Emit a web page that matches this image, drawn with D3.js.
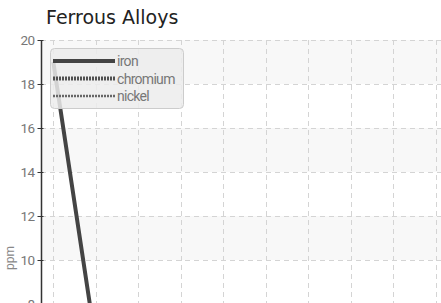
<!DOCTYPE html>
<html>
<head>
<meta charset="utf-8">
<script src="https://cdn.jsdelivr.net/npm/d3@7"></script>
<style>
  html, body { margin: 0; padding: 0; background: #fff; overflow: hidden; }
  svg { display: block; font-family: "Liberation Sans Narrow", "Roboto", sans-serif; }
</style>
</head>
<body>
<div id="chart"></div>
<script>
// samples along the x axis (labels fall below the visible area)
var samples = ["1", "2", "3", "4", "5", "6", "7", "8", "9", "10"];
var iron     = [19.0, 6.2, 5.4, 5.0, 5.6, 6.1, 5.3, 5.0, 5.4, 5.1];
var chromium = [6.5, 6.8, 7.0, 7.2, 7.5, 7.95, 7.3, 7.0, 6.8, 6.6];
var nickel   = [4.0, 4.2, 4.5, 4.3, 4.6, 4.8, 4.4, 4.2, 4.1, 4.3];
var yTicks   = [8, 10, 12, 14, 16, 18, 20];

var seriesNames = ["iron", "chromium", "nickel"];
var seriesData  = [iron, chromium, nickel];
var seriesStyle = [
  {color: "#444",    width: 4,   dash: null},
  {color: "#505050", width: 4,   dash: "2,1"},
  {color: "#666",    width: 2.5, dash: "2,1"}
];

var W = 441, H = 303;
var padL = 41, padT = 40, plotR = 460, plotB = 480;

var svg = d3.select("#chart").append("svg")
    .attr("width", W)
    .attr("height", H);

var x = d3.scalePoint().domain(samples).range([53.3, 435.8]);
var y = d3.scaleLinear().domain([0, 20]).range([plotB, padT]);

// alternating bands, shaded from the top
var bands = svg.append("g");
for (var i = yTicks.length - 1; i > 0; i -= 2) {
    var hi = yTicks[i], lo = yTicks[i - 1];
    bands.append("rect")
        .attr("x", padL)
        .attr("y", y(hi))
        .attr("width", plotR - padL)
        .attr("height", y(lo) - y(hi))
        .attr("fill", "#f8f8f8");
}

// grid
var grid = svg.append("g")
    .attr("stroke", "#d4d4d4")
    .attr("stroke-dasharray", "5,4");
grid.selectAll(".hg")
    .data(yTicks)
    .enter()
    .append("line")
    .attr("x1", padL).attr("x2", plotR)
    .attr("y1", function(d){ return Math.round(y(d)) + 0.5; })
    .attr("y2", function(d){ return Math.round(y(d)) + 0.5; });
grid.selectAll(".vg")
    .data(samples)
    .enter()
    .append("line")
    .attr("x1", function(d){ return Math.round(x(d)) + 0.5; })
    .attr("x2", function(d){ return Math.round(x(d)) + 0.5; })
    .attr("y1", padT).attr("y2", plotB);

// series lines
var line = d3.line()
    .x(function(d, i){ return x(samples[i]); })
    .y(function(d){ return y(d); });

seriesData.forEach(function(s, k){
    var st = seriesStyle[k];
    svg.append("path")
        .datum(s)
        .attr("fill", "none")
        .attr("stroke", st.color)
        .attr("stroke-width", st.width)
        .attr("stroke-linejoin", "round")
        .attr("stroke-dasharray", st.dash)
        .attr("d", line);
});

// y axis
var yAxis = d3.axisLeft(y)
    .tickValues(yTicks)
    .tickSize(4)
    .tickPadding(3)
    .tickFormat(d3.format("d"));
var ax = svg.append("g")
    .attr("transform", "translate(" + (padL + 0.5) + ",0)")
    .call(yAxis);
ax.select(".domain").attr("stroke", "#333").attr("stroke-width", 1.5)
    .attr("d", "M0," + padT + "V" + plotB);
ax.selectAll(".tick line").attr("stroke", "#333").attr("x2", 2).attr("x1", -4);
ax.selectAll(".tick text")
    .attr("fill", "#777")
    .attr("font-size", 13.5)
    .attr("letter-spacing", -0.6)
    .attr("font-family", "Liberation Sans Narrow, Roboto, sans-serif");

// y label
svg.append("text")
    .attr("transform", "translate(14,258) rotate(-90)")
    .attr("text-anchor", "middle")
    .attr("fill", "#888")
    .attr("font-size", 12)
    .text("ppm");

// title
svg.append("text")
    .attr("x", 46)
    .attr("y", 24)
    .attr("fill", "#222")
    .attr("font-size", 19)
    .attr("font-family", "DejaVu Sans, sans-serif")
    .text("Ferrous Alloys");

// legend
var lg = svg.append("g");
lg.append("rect")
    .attr("x", 50.5).attr("y", 48.5)
    .attr("width", 133).attr("height", 60)
    .attr("rx", 4)
    .attr("fill", "#ececec")
    .attr("fill-opacity", 0.85)
    .attr("stroke", "#ccc");

var items = lg.selectAll(".item")
    .data(seriesNames)
    .enter()
    .append("g")
    .attr("transform", function(d, i){ return "translate(53," + (61 + i * 17.5) + ")"; });
items.append("line")
    .attr("x1", 0).attr("x2", 62)
    .attr("stroke", function(d, i){ return seriesStyle[i].color; })
    .attr("stroke-width", function(d, i){ return seriesStyle[i].width; })
    .attr("stroke-dasharray", function(d, i){ return seriesStyle[i].dash; });
items.append("text")
    .attr("x", 64)
    .attr("y", 5)
    .attr("fill", "#777")
    .attr("font-size", 14)
    .attr("letter-spacing", -0.7)
    .text(function(d){ return d; });
</script>
</body>
</html>
